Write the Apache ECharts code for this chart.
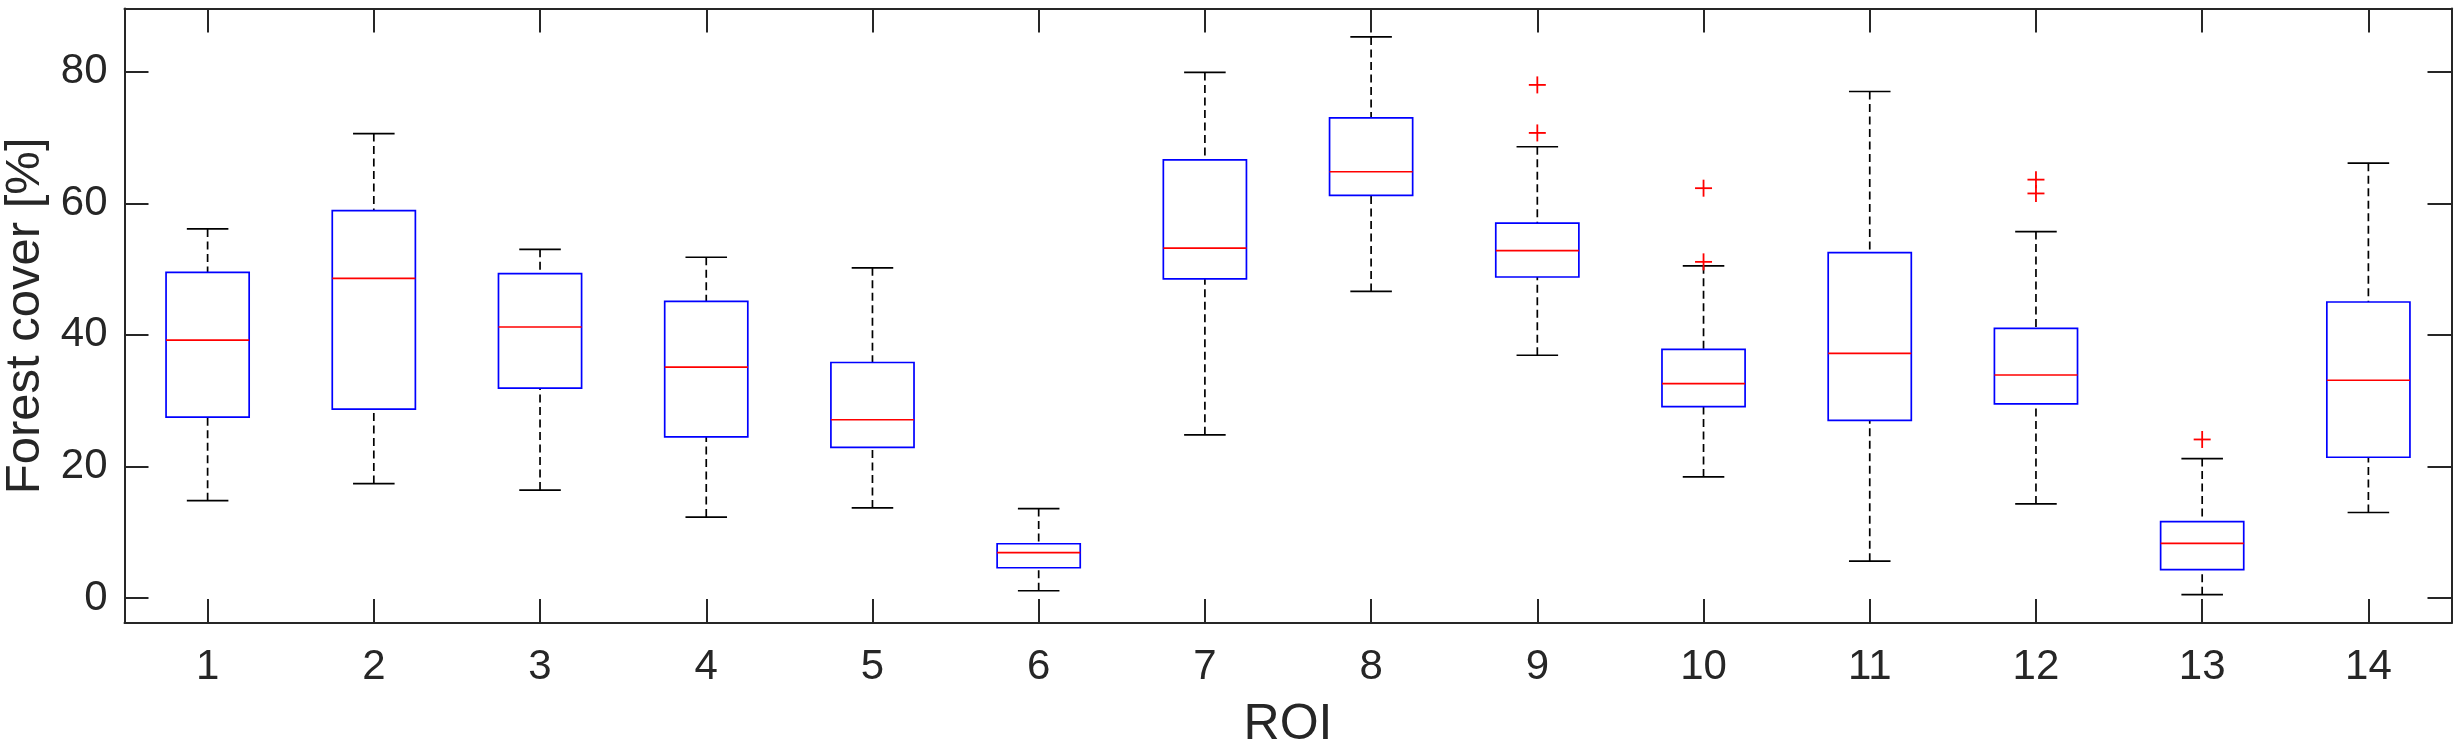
<!DOCTYPE html>
<html>
<head>
<meta charset="utf-8">
<script src="https://cdn.jsdelivr.net/npm/echarts@6/dist/echarts.min.js"></script>
<style>
html,body{margin:0;padding:0;background:#fff;}
#chart{width:2459px;height:747px;}
</style>
</head>
<body>
<div id="chart"></div>
<script>
const categories = ['1','2','3','4','5','6','7','8','9','10','11','12','13','14'];
const lowerWhisker = [14.8,17.4,16.4,12.3,13.7,1.1,24.8,46.6,36.9,18.4,5.6,14.3,0.5,13.0];
const q1 = [27.5,28.7,31.9,24.5,22.9,4.6,48.5,61.2,48.8,29.1,27.0,29.5,4.3,21.4];
const median = [39.2,48.6,41.2,35.1,27.1,6.9,53.2,64.8,52.8,32.6,37.2,33.9,8.3,33.1];
const q3 = [49.5,58.9,49.3,45.1,35.8,8.25,66.6,73.0,57.0,37.8,52.5,41.0,11.6,45.0];
const upperWhisker = [56.1,70.6,53.0,51.8,50.2,13.6,79.9,85.3,68.6,50.5,77.0,55.7,21.2,66.1];
const outlierRoi = [9,9,10,10,12,12,13];
const outlierValue = [78.0,70.7,62.3,51.1,63.6,61.5,24.1];
const yTicks = [0,20,40,60,80];
const yMin = -3.8, yMax = 89.6;

const FONT = "'Liberation Sans', Arial, Helvetica, sans-serif";
const AX = '#262626';

const boxData = categories.map((c, i) => [i, lowerWhisker[i], q1[i], median[i], q3[i], upperWhisker[i]]);
const outData = outlierRoi.map((r, i) => [categories.indexOf(String(r)), outlierValue[i]]);

function renderBox(params, api) {
  const x = api.value(0);
  const band = api.size([1, 0])[0];
  const bw = band * 0.5, cw = band * 0.25;
  const pLo = api.coord([x, api.value(1)]);
  const pQ1 = api.coord([x, api.value(2)]);
  const pMed = api.coord([x, api.value(3)]);
  const pQ3 = api.coord([x, api.value(4)]);
  const pHi = api.coord([x, api.value(5)]);
  const cx = pMed[0];
  const dashStyle = {stroke: '#000', lineWidth: 1.7, lineDash: [8, 4.5]};
  const solid = {stroke: '#000', lineWidth: 1.7};
  return {
    type: 'group',
    children: [
      {type: 'line', shape: {x1: cx, y1: pHi[1], x2: cx, y2: pQ3[1]}, style: dashStyle},
      {type: 'line', shape: {x1: cx, y1: pLo[1], x2: cx, y2: pQ1[1]}, style: dashStyle},
      {type: 'line', shape: {x1: cx - cw / 2, y1: pHi[1], x2: cx + cw / 2, y2: pHi[1]}, style: solid},
      {type: 'line', shape: {x1: cx - cw / 2, y1: pLo[1], x2: cx + cw / 2, y2: pLo[1]}, style: solid},
      {type: 'rect', shape: {x: cx - bw / 2, y: pQ3[1], width: bw, height: pQ1[1] - pQ3[1]},
        style: {fill: 'none', stroke: '#0000FF', lineWidth: 1.7}},
      {type: 'line', shape: {x1: cx - bw / 2, y1: pMed[1], x2: cx + bw / 2, y2: pMed[1]},
        style: {stroke: '#FF0000', lineWidth: 1.7}}
    ]
  };
}

function renderOutlier(params, api) {
  const p = api.coord([api.value(0), api.value(1)]);
  const h = 8.5;
  const st = {stroke: '#FF0000', lineWidth: 1.8};
  return {
    type: 'group',
    children: [
      {type: 'line', shape: {x1: p[0] - h, y1: p[1], x2: p[0] + h, y2: p[1]}, style: st},
      {type: 'line', shape: {x1: p[0], y1: p[1] - h, x2: p[0], y2: p[1] + h}, style: st}
    ]
  };
}

const chart = echarts.init(document.getElementById('chart'), null, {renderer: 'canvas'});
chart.setOption({
  animation: false,
  backgroundColor: '#fff',
  grid: {left: 124.5, right: 7.5, top: 8.6, bottom: 124, containLabel: false, outerBoundsMode: 'none'},
  xAxis: [
    {
      type: 'category', data: categories, boundaryGap: true, position: 'bottom',
      name: 'ROI', nameLocation: 'middle', nameGap: 77,
      nameTextStyle: {fontSize: 50, color: AX, fontFamily: FONT},
      axisLine: {show: true, onZero: false, lineStyle: {color: AX, width: 2}},
      axisTick: {show: true, inside: true, length: 24, alignWithLabel: true, interval: 0, lineStyle: {color: AX, width: 2}},
      axisLabel: {show: true, interval: 0, margin: 23, fontSize: 42, color: AX, fontFamily: FONT},
      splitLine: {show: false}
    },
    {
      type: 'category', data: categories, boundaryGap: true, position: 'top',
      axisLine: {show: true, onZero: false, lineStyle: {color: AX, width: 2}},
      axisTick: {show: true, inside: true, length: 24, alignWithLabel: true, interval: 0, lineStyle: {color: AX, width: 2}},
      axisLabel: {show: false},
      splitLine: {show: false}
    }
  ],
  yAxis: [
    {
      type: 'value', min: yMin, max: yMax, position: 'left',
      name: 'Forest cover [%]', nameLocation: 'middle', nameGap: 72, nameRotate: 90,
      nameTextStyle: {fontSize: 49, color: AX, fontFamily: FONT},
      axisLine: {show: true, onZero: false, lineStyle: {color: AX, width: 2}},
      axisTick: {show: true, inside: true, length: 24, customValues: yTicks, lineStyle: {color: AX, width: 2}},
      axisLabel: {show: true, margin: 17, fontSize: 42, color: AX, fontFamily: FONT, customValues: yTicks},
      splitLine: {show: false}
    },
    {
      type: 'value', min: yMin, max: yMax, position: 'right',
      axisLine: {show: true, onZero: false, lineStyle: {color: AX, width: 2}},
      axisTick: {show: true, inside: true, length: 24, customValues: yTicks, lineStyle: {color: AX, width: 2}},
      axisLabel: {show: false},
      splitLine: {show: false}
    }
  ],
  series: [
    {type: 'custom', xAxisIndex: 0, yAxisIndex: 0, renderItem: renderBox, data: boxData, clip: false},
    {type: 'custom', xAxisIndex: 0, yAxisIndex: 0, renderItem: renderOutlier, data: outData, clip: false}
  ]
});
</script>
</body>
</html>
